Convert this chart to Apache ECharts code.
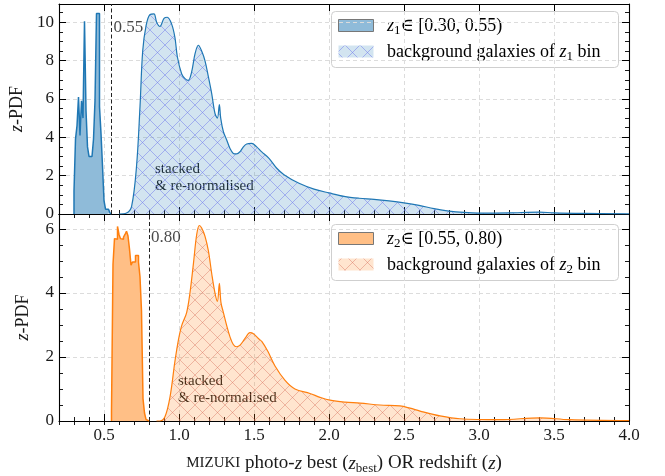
<!DOCTYPE html>
<html>
<head>
<meta charset="utf-8">
<script src="https://cdn.jsdelivr.net/npm/echarts@6/dist/echarts.min.js"></script>
<style>
  html, body { margin: 0; padding: 0; background: #fff; }
  #chart { width: 665px; height: 476px; }
</style>
</head>
<body>
<div id="chart"></div>
<script>
// ---- data -------------------------------------------------------------
const binWidth = 0.01;

// lens-bin redshift histograms (bin left edges start at z1Start / z2Start)
const z1Start = 0.30;
const z1Hist = [1.2, 3.9, 4.6, 6.1, 4.1, 5.9, 5.0, 10.05, 5.4, 3.5, 3.0, 3.0, 3.0,
                3.9, 5.9, 10.45, 10.45, 5.6, 4.2, 2.5, 0.7, 0.25, 0.25, 0.2, 0.05];
const z2Start = 0.55;
const z2Hist = [0.3, 4.9, 5.7, 5.68, 6.08, 5.83, 5.7, 5.68, 5.75, 5.83, 5.93, 5.78, 5.37,
                4.87, 4.97, 4.97, 5.17, 5.17, 4.97, 4.5, 3.44, 0.7, 0.25, 0.05, 0.0];

// upper edges of the lens bins
const z1Edge = 0.55;
const z2Edge = 0.80;

// stacked, re-normalised photo-z PDFs of the background galaxies
const bg1Z   = [0.60, 0.65, 0.684, 0.717, 0.74, 0.758, 0.78, 0.807, 0.833, 0.851, 0.873, 0.90,
                0.922, 0.951, 0.973, 0.989, 1.018, 1.04, 1.062, 1.084, 1.107, 1.129, 1.151,
                1.173, 1.196, 1.218, 1.24, 1.256, 1.269, 1.278, 1.296, 1.318, 1.34, 1.362,
                1.384, 1.407, 1.429, 1.451, 1.484, 1.518, 1.55, 1.60, 1.65, 1.70, 1.80, 1.90,
                2.00, 2.10, 2.20, 2.30, 2.40, 2.50, 2.60, 2.70, 2.80, 2.90, 3.00, 3.20, 3.40,
                3.50, 3.70, 4.00];
const bg1Pdf = [0.0, 0.05, 0.4, 2.5, 5.6, 8.5, 9.8, 10.4, 10.43, 10.0, 9.78, 10.2,
                10.26, 9.9, 9.2, 8.2, 7.3, 7.06, 6.97, 7.4, 8.36, 8.8, 8.5,
                8.0, 7.15, 6.28, 5.24, 5.0, 5.7, 5.0, 4.29, 3.86, 3.42, 3.16,
                3.13, 3.25, 3.5, 3.65, 3.68, 3.5, 3.25, 2.9, 2.4, 2.05, 1.6, 1.3,
                1.1, 0.92, 0.82, 0.76, 0.68, 0.58, 0.45, 0.28, 0.15, 0.08, 0.05, 0.06, 0.1,
                0.06, 0.03, 0.01];

const bg2Z   = [0.85, 0.873, 0.907, 0.94, 0.973, 0.996, 1.018, 1.051, 1.073, 1.096, 1.118,
                1.136, 1.151, 1.173, 1.196, 1.218, 1.24, 1.256, 1.269, 1.28, 1.296, 1.318,
                1.34, 1.362, 1.384, 1.407, 1.44, 1.473, 1.496, 1.529, 1.553, 1.593, 1.64,
                1.707, 1.773, 1.873, 1.94, 2.007, 2.107, 2.207, 2.34, 2.473, 2.54, 2.607,
                2.74, 2.873, 3.14, 3.407, 3.60, 4.00];
const bg2Pdf = [0.0, 0.0, 0.14, 0.75, 1.87, 2.53, 2.98, 3.39, 4.0, 4.91, 5.83,
                6.11, 6.03, 5.78, 5.32, 4.61, 4.0, 3.74, 4.3, 3.69, 3.39, 2.98,
                2.63, 2.39, 2.32, 2.37, 2.58, 2.76, 2.73, 2.58, 2.48, 2.17, 1.72,
                1.27, 1.0, 0.86, 0.74, 0.65, 0.59, 0.56, 0.5, 0.47, 0.4, 0.31,
                0.16, 0.07, 0.04, 0.1, 0.04, 0.01];

// axes
const xMin = 0.2, xMax = 4.0;
const xTickLabels = ['0.5', '1.0', '1.5', '2.0', '2.5', '3.0', '3.5', '4.0'];
const y1Max = 10.95, y2Max = 6.47;

// ---- helpers ----------------------------------------------------------
const SERIF = '"Liberation Serif", "DejaVu Serif", serif';
const INK = '#1a1a1a';

function richSet(size) {
  return {
    t:   { fontFamily: SERIF, fontSize: size, color: INK },
    i:   { fontFamily: SERIF, fontSize: size, color: INK, fontStyle: 'italic' },
    sub: { fontFamily: SERIF, fontSize: Math.round(size * 0.7), color: INK,
           padding: [Math.round(size * 0.5), 0, 0, 0] },
    sc:  { fontFamily: SERIF, fontSize: Math.round(size * 0.8), color: INK }
  };
}

// histogram outline as explicit steps between bin edges
function stepPoints(start, vals) {
  const pts = [[start, 0]];
  vals.forEach((v, k) => {
    const a = +(start + k * binWidth).toFixed(4);
    const b = +(start + (k + 1) * binWidth).toFixed(4);
    pts.push([a, v], [b, v]);
  });
  pts.push([+(start + vals.length * binWidth).toFixed(4), 0]);
  return pts;
}

function zip(xs, ys) { return xs.map((x, k) => [x, ys[k]]); }

// cross-hatch tile used as an area fill
function hatch(fill, stroke) {
  const s = 15;
  const c = document.createElement('canvas');
  c.width = s; c.height = s;
  const g = c.getContext('2d');
  g.fillStyle = fill;
  g.fillRect(0, 0, s, s);
  g.strokeStyle = stroke;
  g.lineWidth = 1;
  g.beginPath();
  g.moveTo(-1, -1); g.lineTo(s + 1, s + 1);
  g.moveTo(-1, s + 1); g.lineTo(s + 1, -1);
  g.stroke();
  return { image: c, repeat: 'repeat' };
}

const hatchBlue   = hatch('rgba(31,119,180,0.2)', 'rgba(110,120,235,0.5)');
const hatchOrange = hatch('rgba(255,127,14,0.2)', 'rgba(214,110,90,0.42)');

const gridLine = { show: true, lineStyle: { color: '#dcdcdc', type: [4, 3], width: 1 } };
const frameLine = { show: true, onZero: false, lineStyle: { color: '#000', width: 1.1 } };
const majorTick = { show: true, inside: true, length: 7, lineStyle: { color: '#000', width: 1 } };
const minorTick = { show: true, inside: true, length: 4, lineStyle: { color: '#000', width: 0.9 } };

function isMajorX(v) {
  return xTickLabels.indexOf(v.toFixed(1)) >= 0 && Math.abs(v * 2 - Math.round(v * 2)) < 1e-6;
}

function xAxesFor(grid, withLabels) {
  const base = { type: 'value', gridIndex: grid, min: xMin, max: xMax };
  const axes = [
    Object.assign({}, base, {
      position: 'bottom', splitNumber: 8,
      axisLine: frameLine, axisTick: majorTick, splitLine: gridLine,
      axisLabel: withLabels ? {
        show: true, margin: 6, color: INK, fontFamily: SERIF, fontSize: 17,
        formatter: v => (isMajorX(v) ? v.toFixed(1) : '')
      } : { show: false }
    }),
    Object.assign({}, base, {
      position: 'bottom', interval: 0.1,
      axisLine: { show: false }, axisTick: minorTick, splitLine: { show: false },
      axisLabel: { show: false }
    }),
    Object.assign({}, base, {
      position: 'top', splitNumber: 8,
      axisLine: frameLine, axisTick: majorTick, splitLine: { show: false },
      axisLabel: { show: false }
    }),
    Object.assign({}, base, {
      position: 'top', interval: 0.1,
      axisLine: { show: false }, axisTick: minorTick, splitLine: { show: false },
      axisLabel: { show: false }
    })
  ];
  if (withLabels) {
    Object.assign(axes[0], {
      name: '{sc|MIZUKI}{t| photo-}{i|z}{t| best (}{i|z}{sub|best}{t|) OR redshift (}{i|z}{t|)}',
      nameLocation: 'middle', nameGap: 31,
      nameTextStyle: { rich: richSet(19) }
    });
  }
  return axes;
}

function yAxesFor(grid, max) {
  const base = { type: 'value', gridIndex: grid, min: 0, max: max };
  return [
    Object.assign({}, base, {
      position: 'left', interval: 2,
      axisLine: frameLine, axisTick: majorTick, splitLine: gridLine,
      axisLabel: {
        show: true, margin: 5, color: INK, fontFamily: SERIF, fontSize: 17,
        formatter: v => (Math.abs(v - Math.round(v)) < 1e-6 ? String(Math.round(v)) : '')
      },
      name: '{i|z}{t|-PDF}', nameLocation: 'middle', nameGap: 27,
      nameTextStyle: { rich: richSet(18) }
    }),
    Object.assign({}, base, {
      position: 'left', interval: 0.5,
      axisLine: { show: false }, axisTick: minorTick, splitLine: { show: false },
      axisLabel: { show: false }
    }),
    Object.assign({}, base, {
      position: 'right', interval: 2,
      axisLine: frameLine, axisTick: majorTick, splitLine: { show: false },
      axisLabel: { show: false }
    }),
    Object.assign({}, base, {
      position: 'right', interval: 0.5,
      axisLine: { show: false }, axisTick: minorTick, splitLine: { show: false },
      axisLabel: { show: false }
    })
  ];
}

function edgeLine(value) {
  return {
    silent: true, symbol: 'none', animation: false,
    lineStyle: { color: '#222', type: [4, 2.5], width: 1 },
    label: { show: false },
    data: [{ xAxis: value }]
  };
}

function edgeLabel(xi, yi, value, yPos) {
  return {
    type: 'scatter', xAxisIndex: xi, yAxisIndex: yi, silent: true,
    symbolSize: 0, z: 5,
    data: [[value, yPos]],
    label: {
      show: true, position: 'right', distance: 2,
      color: INK, fontFamily: SERIF, fontSize: 17,
      formatter: () => value.toFixed(2)
    }
  };
}

// ---- legends & notes --------------------------------------------------
function legendBox(top, histFill, hatchFill, k) {
  const r = richSet(18);
  return {
    type: 'group',
    children: [
      { type: 'rect', shape: { x: 331.5, y: top + 0.5, width: 287, height: 56, r: 4 },
        style: { fill: 'rgba(255,255,255,0.85)', stroke: '#cfcfcf', lineWidth: 1 } },
      { type: 'rect', shape: { x: 338.5, y: top + 8.5, width: 35, height: 12 },
        style: { fill: histFill, stroke: '#777', lineWidth: 1 } },
      { type: 'rect', shape: { x: 338.5, y: top + 34.5, width: 35, height: 12 },
        style: { fill: hatchFill, stroke: 'none' } },
      { type: 'text', x: 387, y: top + 15,
        style: { text: '{i|z}{sub|' + k + '}{t|\u2208 [' + (k === 1 ? '0.30, 0.55' : '0.55, 0.80') + ')}',
                 rich: r, verticalAlign: 'middle', align: 'left' } },
      { type: 'text', x: 387, y: top + 41,
        style: { text: '{t|background galaxies of }{i|z}{sub|' + k + '}{t| bin}',
                 rich: r, verticalAlign: 'middle', align: 'left' } }
    ]
  };
}

function note(x, y) {
  return {
    type: 'text', x: x, y: y,
    style: { text: 'stacked\n& re-normalised', fill: INK, font: '15px ' + SERIF,
             lineHeight: 17, align: 'left', verticalAlign: 'top' }
  };
}

// ---- chart ------------------------------------------------------------
const chart = echarts.init(document.getElementById('chart'), null, { renderer: 'canvas' });

chart.setOption({
  animation: false,
  backgroundColor: '#fff',
  grid: [
    { left: 59, right: 36, top: 4, height: 210 },
    { left: 59, right: 36, top: 214, height: 212 }
  ],
  xAxis: xAxesFor(0, false).concat(xAxesFor(1, true)),
  yAxis: yAxesFor(0, y1Max).concat(yAxesFor(1, y2Max)),
  series: [
    {
      type: 'line', xAxisIndex: 0, yAxisIndex: 0, z: 3,
      data: zip(bg1Z, bg1Pdf), smooth: 0.35, showSymbol: false, symbol: 'none',
      lineStyle: { color: '#1f77b4', width: 1.2 },
      areaStyle: { color: hatchBlue, opacity: 1 }
    },
    {
      type: 'line', xAxisIndex: 0, yAxisIndex: 0, z: 4,
      data: stepPoints(z1Start, z1Hist), showSymbol: false, symbol: 'none',
      lineStyle: { color: '#1f77b4', width: 1.5 },
      areaStyle: { color: '#8fbbd9', opacity: 1 },
      markLine: edgeLine(z1Edge)
    },
    edgeLabel(0, 0, z1Edge, 9.7),
    {
      type: 'line', xAxisIndex: 4, yAxisIndex: 4, z: 3,
      data: zip(bg2Z, bg2Pdf), smooth: 0.35, showSymbol: false, symbol: 'none',
      lineStyle: { color: '#ff7f0e', width: 1.2 },
      areaStyle: { color: hatchOrange, opacity: 1 }
    },
    {
      type: 'line', xAxisIndex: 4, yAxisIndex: 4, z: 4,
      data: stepPoints(z2Start, z2Hist), showSymbol: false, symbol: 'none',
      lineStyle: { color: '#ff7f0e', width: 1.5 },
      areaStyle: { color: '#ffbf86', opacity: 1 },
      markLine: edgeLine(z2Edge)
    },
    edgeLabel(4, 4, z2Edge, 5.74)
  ],
  graphic: [
    legendBox(11, '#8fbbd9', hatchBlue, 1),
    legendBox(224, '#ffbf86', hatchOrange, 2),
    note(155, 161),
    note(178, 373)
  ]
});
</script>
</body>
</html>
